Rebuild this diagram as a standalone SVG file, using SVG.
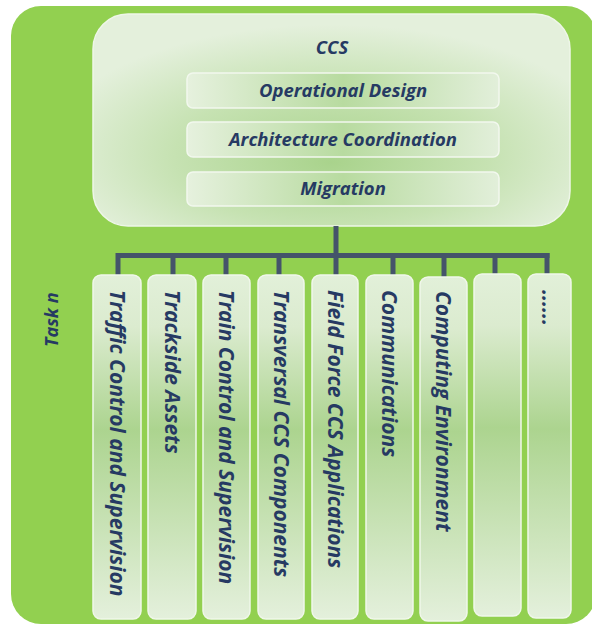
<svg xmlns="http://www.w3.org/2000/svg" width="592" height="626" viewBox="0 0 592 626">
  <defs>
    <radialGradient id="gBig" cx="0.5" cy="0.65" r="0.6" fx="0.5" fy="0.7">
      <stop offset="0" stop-color="#a9d38c"/>
      <stop offset="0.55" stop-color="#c6e2b2"/>
      <stop offset="1" stop-color="#e4f0dc"/>
    </radialGradient>
    <linearGradient id="gInner" x1="0" y1="0" x2="1" y2="0">
      <stop offset="0" stop-color="#e6f1de"/>
      <stop offset="0.5" stop-color="#b8dba0"/>
      <stop offset="1" stop-color="#e2efda"/>
    </linearGradient>
    <linearGradient id="gCol" x1="0" y1="0" x2="0" y2="1">
      <stop offset="0" stop-color="#e2f0d9"/>
      <stop offset="0.15" stop-color="#dbebcf"/>
      <stop offset="0.45" stop-color="#acd48f"/>
      <stop offset="1" stop-color="#e4f0dc"/>
    </linearGradient>
  </defs>
  <style>
    .bg { fill: #92d050; }
    .big { fill: url(#gBig); stroke: #eef6e8; stroke-width: 1.5; }
    .inner { fill: url(#gInner); stroke: #f2f8ee; stroke-width: 1.5; }
    .col { fill: url(#gCol); stroke: #f0f7ea; stroke-width: 1.5; }
    .t { font-family: "Open Sans", "Liberation Sans", sans-serif; font-weight: 700; font-style: italic; fill: #263a63; }
    .h { font-size: 18.5px; text-anchor: middle; }
    .v { font-size: 21px; text-anchor: start; }
    .conn { stroke: #44546a; stroke-width: 5; fill: none; stroke-linecap: butt; }
  </style>

  <rect class="bg" x="11" y="6" width="585" height="618" rx="30"/>

  <g id="ccs">
    <rect class="big" x="93" y="14" width="477" height="212" rx="35"/>
    <text class="t h" x="332" y="54" font-size="20">CCS</text>
  </g>
  <g id="operational-design">
    <rect class="inner" x="187" y="73" width="312" height="35" rx="6"/>
    <text class="t h" x="343" y="97">Operational Design</text>
  </g>
  <g id="architecture-coordination">
    <rect class="inner" x="187" y="122" width="312" height="35" rx="6"/>
    <text class="t h" x="343" y="146">Architecture Coordination</text>
  </g>
  <g id="migration">
    <rect class="inner" x="187" y="172" width="312" height="34" rx="6"/>
    <text class="t h" x="343" y="195">Migration</text>
  </g>

  <g id="connectors">
    <path class="conn" d="M336 226 V275"/>
    <path class="conn" d="M116 255.5 H549.5"/>
    <path class="conn" d="M118 253 V275 M173 253 V275 M226 253 V275 M279 253 V275 M393 253 V275 M444 253 V277 M495 253 V274 M547 253 V274"/>
  </g>

  <text class="t" x="0" y="0" font-size="18" transform="translate(58 347) rotate(-90)">Task n</text>

  <g id="col1">
    <rect class="col" x="93" y="275" width="48" height="344" rx="8"/>
    <text class="t v" transform="translate(117 290) rotate(90)" y="7.5">Traffic Control and Supervision</text>
  </g>
  <g id="col2">
    <rect class="col" x="148" y="275" width="48" height="344" rx="8"/>
    <text class="t v" transform="translate(172 290) rotate(90)" y="7.5">Trackside Assets</text>
  </g>
  <g id="col3">
    <rect class="col" x="203" y="275" width="47" height="344" rx="8"/>
    <text class="t v" transform="translate(226.5 290) rotate(90)" y="7.5">Train Control and Supervision</text>
  </g>
  <g id="col4">
    <rect class="col" x="258" y="275" width="46" height="344" rx="8"/>
    <text class="t v" transform="translate(281 290) rotate(90)" y="7.5">Transversal CCS Components</text>
  </g>
  <g id="col5">
    <rect class="col" x="312" y="275" width="46" height="344" rx="8"/>
    <text class="t v" transform="translate(335 290) rotate(90)" y="7.5">Field Force CCS Applications</text>
  </g>
  <g id="col6">
    <rect class="col" x="366" y="275" width="47" height="344" rx="8"/>
    <text class="t v" transform="translate(389.5 290) rotate(90)" y="7.5">Communications</text>
  </g>
  <g id="col7">
    <rect class="col" x="420" y="277" width="47" height="344" rx="8"/>
    <text class="t v" transform="translate(443.5 291) rotate(90)" y="7.5">Computing Environment</text>
  </g>
  <g id="col8">
    <rect class="col" x="474" y="274" width="47" height="342" rx="8"/>
  </g>
  <g id="col9">
    <rect class="col" x="528" y="274" width="43" height="344" rx="8"/>
    <text class="t v" transform="translate(549.5 290) rotate(90)" y="7.5">......</text>
  </g>
</svg>
